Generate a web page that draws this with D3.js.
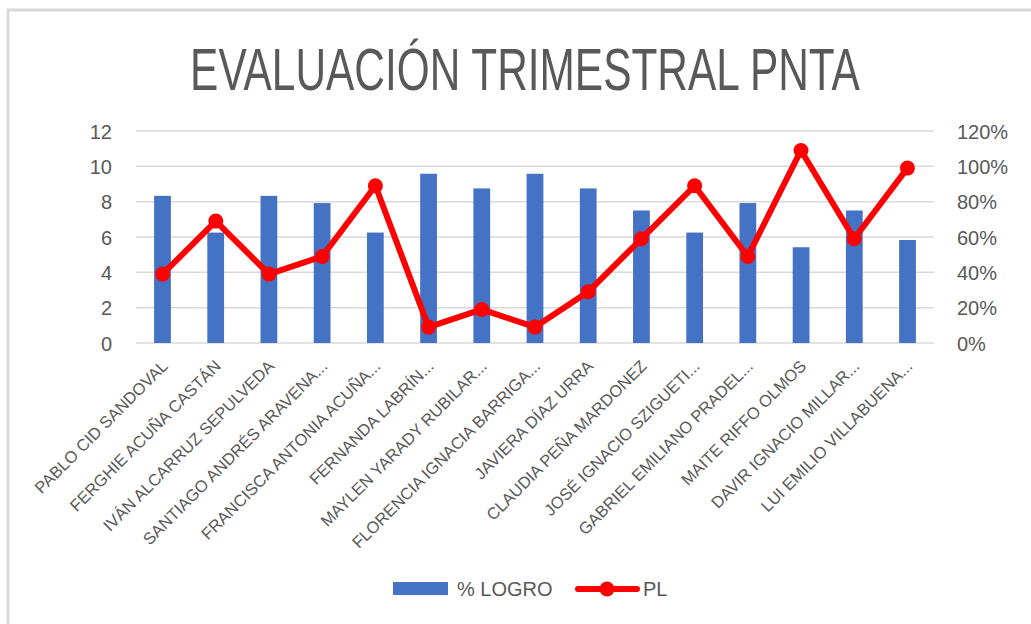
<!DOCTYPE html>
<html>
<head>
<meta charset="utf-8">
<script src="https://cdn.jsdelivr.net/npm/d3@7"></script>
<style>
  body { margin: 0; background: #fff; }
  text { font-family: "Liberation Sans", sans-serif; fill: #595959; }
</style>
</head>
<body>
<div id="chart"></div>
<script>
var students = ['PABLO CID SANDOVAL', 'FERGHIE ACUÑA CASTÁN', 'IVÁN ALCARRUZ SEPULVEDA',
    'SANTIAGO ANDRÉS ARAVENA...', 'FRANCISCA ANTONIA ACUÑA...', 'FERNANDA LABRÍN...',
    'MAYLEN YARADY RUBILAR...', 'FLORENCIA IGNACIA BARRIGA...', 'JAVIERA DÍAZ URRA',
    'CLAUDIA PEÑA MARDONEZ', 'JOSÉ IGNACIO SZIGUETI...', 'GABRIEL EMILIANO PRADEL...',
    'MAITE RIFFO OLMOS', 'DAVIR IGNACIO MILLAR...', 'LUI EMILIO VILLABUENA...'];
var logro = [8.33, 6.25, 8.33, 7.92, 6.25, 9.58, 8.75, 9.58, 8.75, 7.5, 6.25, 7.92, 5.42, 7.5, 5.83];
var pl = [0.39, 0.69, 0.39, 0.49, 0.89, 0.09, 0.19, 0.09, 0.29, 0.59, 0.89, 0.49, 1.09, 0.59, 0.99];
var leftTicks = [0, 2, 4, 6, 8, 10, 12];
var rightTicks = [0, 0.2, 0.4, 0.6, 0.8, 1.0, 1.2];

var W = 1031, H = 624;
var svg = d3.select('#chart').append('svg')
    .attr('width', W)
    .attr('height', H);

// chart frame (only top and left edges show)
svg.append('path')
    .attr('d', 'M8,624 V10 H1031')
    .attr('fill', 'none')
    .attr('stroke', '#d9d9d9')
    .attr('stroke-width', 3);

var plot = {left: 136, right: 934, top: 131, bottom: 343};

var x = d3.scaleBand().domain(students).range([plot.left, plot.right]).paddingInner(0.685).paddingOuter(0.34);
var band = d3.scaleBand().domain(students).range([plot.left, plot.right]);
var yL = d3.scaleLinear().domain([0, 12]).range([plot.bottom, plot.top]);
var yR = d3.scaleLinear().domain([0, 1.2]).range([plot.bottom, plot.top]);

// title: tall, condensed letters -> squeeze horizontally to ~670px
var titleG = svg.append('g');
var title = titleG.append('text')
    .attr('x', 0)
    .attr('y', 0)
    .attr('text-anchor', 'middle')
    .attr('font-size', 59)
    .text('EVALUACIÓN TRIMESTRAL PNTA');
var tw = title.node().getComputedTextLength();
titleG.attr('transform', 'translate(525,90) scale(' + (670 / tw) + ',1)');

// gridlines
svg.append('g').selectAll('line').data(leftTicks).enter().append('line')
    .attr('x1', plot.left).attr('x2', plot.right)
    .attr('y1', function(d) { return yL(d); })
    .attr('y2', function(d) { return yL(d); })
    .attr('stroke', '#d9d9d9')
    .attr('stroke-width', 1.5);

var leftAxis = svg.append('g')
    .attr('transform', 'translate(' + (plot.left - 24) + ',0)')
    .call(d3.axisLeft(yL).tickValues(leftTicks).tickSize(0).tickPadding(0));
leftAxis.select('.domain').remove();
leftAxis.selectAll('text').attr('font-size', 20).attr('dy', '0.36em')
    .style('font-family', '"Liberation Sans", sans-serif').attr('fill', '#595959');

var rightAxis = svg.append('g')
    .attr('transform', 'translate(' + (plot.right + 23) + ',0)')
    .call(d3.axisRight(yR).tickValues(rightTicks).tickSize(0).tickPadding(0).tickFormat(d3.format('.0%')));
rightAxis.select('.domain').remove();
rightAxis.selectAll('text').attr('font-size', 20).attr('dy', '0.36em')
    .style('font-family', '"Liberation Sans", sans-serif').attr('fill', '#595959');

// bars
svg.append('g').selectAll('rect').data(logro).enter().append('rect')
    .attr('x', function(d, i) { return x(students[i]); })
    .attr('width', x.bandwidth())
    .attr('y', function(d) { return yL(d); })
    .attr('height', function(d) { return yL(0) - yL(d); })
    .attr('fill', '#4472c4');

// category labels
svg.append('g').selectAll('text').data(students).enter().append('text')
    .attr('transform', function(d) {
        return 'translate(' + (band(d) + band.bandwidth() / 2 - 2) + ',359) rotate(-45)';
    })
    .attr('text-anchor', 'end')
    .attr('dy', '0.7em')
    .attr('font-size', 16.5)
    .text(function(d) { return d; });

// PL line
var line = d3.line()
    .x(function(d, i) { return band(students[i]) + band.bandwidth() / 2; })
    .y(function(d) { return yR(d); });

svg.append('path')
    .datum(pl)
    .attr('d', line)
    .attr('fill', 'none')
    .attr('stroke', '#ff0000')
    .attr('stroke-width', 6)
    .attr('stroke-linejoin', 'round');

svg.append('g').selectAll('circle').data(pl).enter().append('circle')
    .attr('cx', function(d, i) { return band(students[i]) + band.bandwidth() / 2; })
    .attr('cy', function(d) { return yR(d); })
    .attr('r', 7.5)
    .attr('fill', '#ff0000');

// legend
var legend = svg.append('g');
legend.append('rect')
    .attr('x', 393).attr('y', 582).attr('width', 55).attr('height', 13)
    .attr('fill', '#4472c4');
legend.append('text')
    .attr('x', 457).attr('y', 596).attr('font-size', 20)
    .text('% LOGRO');
legend.append('line')
    .attr('x1', 578).attr('x2', 637).attr('y1', 589).attr('y2', 589)
    .attr('stroke', '#ff0000').attr('stroke-width', 6).attr('stroke-linecap', 'round');
legend.append('circle')
    .attr('cx', 607).attr('cy', 589).attr('r', 7.5).attr('fill', '#ff0000');
legend.append('text')
    .attr('x', 643).attr('y', 596).attr('font-size', 20)
    .text('PL');
</script>
</body>
</html>
